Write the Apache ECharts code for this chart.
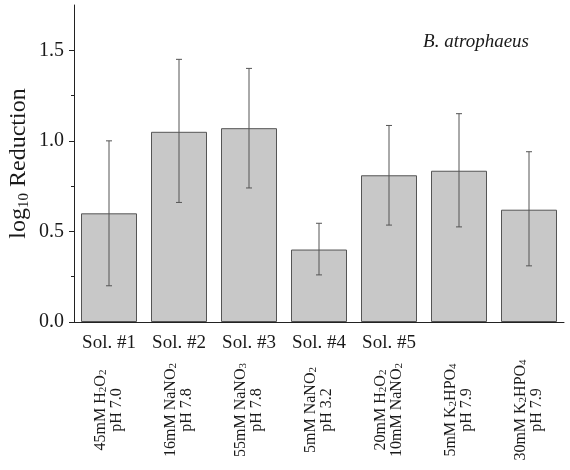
<!DOCTYPE html>
<html>
<head>
<meta charset="utf-8">
<script src="https://cdn.jsdelivr.net/npm/echarts@6/dist/echarts.min.js"></script>
<style>html,body{margin:0;padding:0;background:#fff}#c{width:570px;height:470px}</style>
</head>
<body>
<div id="c"></div>
<script>
const categories = ['Sol. #1', 'Sol. #2', 'Sol. #3', 'Sol. #4', 'Sol. #5', '', ''];
const compositions = [
  '45mM H{s|2}O{s|2}\npH 7.0',
  '16mM NaNO{s|2}\npH 7.8',
  '55mM NaNO{s|3}\npH 7.8',
  '5mM NaNO{s|2}\npH 3.2',
  '20mM H{s|2}O{s|2}\n10mM NaNO{s|2}',
  '5mM K{s|2}HPO{s|4}\npH 7.9',
  '30mM K{s|2}HPO{s|4}\npH 7.9'
];
const meanReduction = [0.60, 1.05, 1.07, 0.40, 0.81, 0.835, 0.62];
const errLow = [0.20, 0.66, 0.74, 0.26, 0.535, 0.525, 0.31];
const errHigh = [1.00, 1.45, 1.40, 0.545, 1.085, 1.15, 0.94];
const majorTicks = [0, 0.5, 1.0, 1.5];
const minorTicks = [0.25, 0.75, 1.25];
const yMin = 0, yMax = 1.75;

const FONT = 'Liberation Serif';
const TXT = '#1a1a1a';
const AX = '#222';

const chart = echarts.init(document.getElementById('c'));
chart.setOption({
  animation: false,
  backgroundColor: '#fff',
  textStyle: { fontFamily: FONT, color: TXT },
  title: {
    text: 'B. atrophaeus',
    right: 36, top: 27,
    textStyle: { fontFamily: FONT, fontStyle: 'italic', fontWeight: 'normal', fontSize: 19, color: TXT }
  },
  grid: { left: 74, right: 6, top: 5, bottom: 148, containLabel: false, outerBoundsMode: 'none' },
  xAxis: [
    {
      type: 'category', data: categories,
      axisLine: { lineStyle: { color: AX, width: 1 } },
      axisTick: { alignWithLabel: true, length: 5, interval: 0, lineStyle: { color: AX } },
      axisLabel: { interval: 0, fontFamily: FONT, fontSize: 19, color: TXT, margin: 12 }
    },
    {
      type: 'category', data: compositions, position: 'bottom', offset: 0,
      axisLine: { show: false }, axisTick: { show: false },
      axisLabel: {
        interval: 0, rotate: 90, align: 'center', verticalAlign: 'middle', margin: 88,
        fontFamily: FONT, fontSize: 16, color: TXT, lineHeight: 16,
        rich: { s: { fontFamily: FONT, fontSize: 11, color: TXT, verticalAlign: 'bottom', lineHeight: 16, padding: [3, 0, 0, 0] } }
      }
    }
  ],
  yAxis: [
    {
      type: 'value', min: yMin, max: yMax, interval: 0.5, position: 'left',
      name: 'log{s|10} Reduction', nameLocation: 'middle', nameGap: 42, nameMoveOverlap: false,
      nameTextStyle: {
        fontFamily: FONT, fontSize: 24, color: TXT, lineHeight: 26,
        rich: { s: { fontFamily: FONT, fontSize: 15, color: TXT, verticalAlign: 'bottom', lineHeight: 26 } }
      },
      axisLine: { show: true, lineStyle: { color: AX, width: 1 } },
      axisTick: { show: true, length: 5, customValues: majorTicks, lineStyle: { color: AX } },
      axisLabel: { customValues: majorTicks, formatter: v => v.toFixed(1), fontFamily: FONT, fontSize: 20, color: TXT, margin: 10 },
      splitLine: { show: false }
    },
    {
      type: 'value', min: yMin, max: yMax, interval: 0.25, position: 'left', offset: 0,
      axisLine: { show: false },
      axisTick: { show: true, length: 3, customValues: minorTicks, lineStyle: { color: AX } },
      axisLabel: { show: false },
      splitLine: { show: false }
    }
  ],
  series: [
    {
      type: 'bar', data: meanReduction, xAxisIndex: 0, yAxisIndex: 0,
      barWidth: '80%',
      itemStyle: { color: '#c8c8c8', borderColor: '#555', borderWidth: 1 }
    },
    {
      type: 'custom', xAxisIndex: 0, yAxisIndex: 0,
      data: meanReduction.map((m, i) => [i, errLow[i], errHigh[i]]),
      renderItem: function (params, api) {
        const x = api.value(0);
        const lo = api.coord([x, api.value(1)]);
        const hi = api.coord([x, api.value(2)]);
        const w = 3;
        const st = { stroke: '#555', lineWidth: 1 };
        return {
          type: 'group',
          children: [
            { type: 'line', shape: { x1: lo[0], y1: lo[1], x2: hi[0], y2: hi[1] }, style: st },
            { type: 'line', shape: { x1: lo[0] - w, y1: lo[1], x2: lo[0] + w, y2: lo[1] }, style: st },
            { type: 'line', shape: { x1: hi[0] - w, y1: hi[1], x2: hi[0] + w, y2: hi[1] }, style: st }
          ]
        };
      },
      z: 5
    }
  ]
});
</script>
</body>
</html>
